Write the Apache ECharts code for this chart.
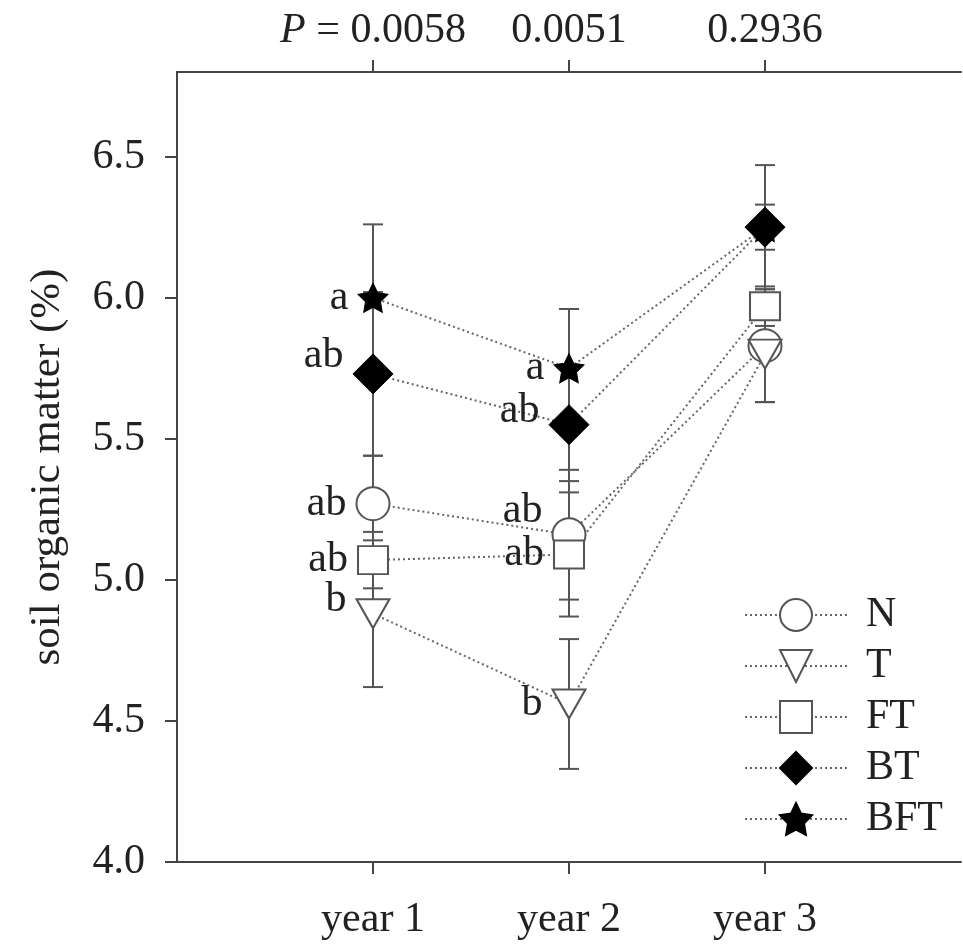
<!DOCTYPE html>
<html lang="en">
<head>
    <meta charset="UTF-8">
    <script src="https://cdn.jsdelivr.net/npm/echarts@6/dist/echarts.min.js"></script>
    <style type="text/css">
        html, body, #main {
            height: 100%;
            width: 100%;
            margin: 0;
            padding: 0;
            background: #fff;
        }
    </style>
    <title>soil organic matter</title>
</head>
<body>
<div id="main"></div>
<script>
    // x categories and P values on the top axis
    var years = ['year 1', 'year 2', 'year 3'];
    var pValues = ['0.0058', '0.0051', '0.2936'];
    var yTicks = [4.0, 4.5, 5.0, 5.5, 6.0, 6.5];

    var treatments = ['N', 'T', 'FT', 'BT', 'BFT'];

    // means and error (+/-) per year
    var meanN = [5.27, 5.16, 5.83];
    var errN = [0.17, 0.23, 0.20];
    var meanT = [4.88, 4.56, 5.80];
    var errT = [0.26, 0.23, 0.17];
    var meanFT = [5.07, 5.09, 5.97];
    var errFT = [0.10, 0.22, 0.07];
    var meanBT = [5.73, 5.55, 6.25];
    var errBT = [0.29, 0.20, 0.22];
    var meanBFT = [6.00, 5.75, 6.25];
    var errBFT = [0.26, 0.21, 0.08];

    // significance letters
    var lettersN = ['ab', 'ab', ''];
    var lettersT = ['b', 'b', ''];
    var lettersFT = ['ab', 'ab', ''];
    var lettersBT = ['ab', 'ab', ''];
    var lettersBFT = ['a', 'a', ''];

    var means = [meanN, meanT, meanFT, meanBT, meanBFT];
    var errs = [errN, errT, errFT, errBT, errBFT];
    var letters = [lettersN, lettersT, lettersFT, lettersBT, lettersBFT];

    var FONT = '"Liberation Serif", "DejaVu Serif", serif';
    var FS = 42;
    var STAR = 'path://M0,-10L2.94,-4.05L9.51,-3.09L4.76,1.55L5.88,8.09L0,5L-5.88,8.09L-4.76,1.55L-9.51,-3.09L-2.94,-4.05Z';

    var hollow = {color: '#fff', borderColor: '#555', borderWidth: 2};
    var filled = {color: '#000', borderColor: '#000', borderWidth: 1};
    var looks = [
        {symbol: 'circle', size: 33, rotate: 0, style: hollow, z: 3},
        {symbol: 'triangle', size: [33, 29], rotate: 180, style: hollow, z: 3},
        {symbol: 'rect', size: [30, 28], rotate: 0, style: hollow, z: 3},
        {symbol: 'diamond', size: 40, rotate: 0, style: filled, z: 5},
        {symbol: STAR, size: [30, 29], rotate: 0, style: filled, z: 4}
    ];
    // small vertical shifts of the letters, as placed in the figure
    var labelNudge = {'1-0': -14, '3-0': -18, '3-1': -14, '0-1': -24};

    var myChart = echarts.init(document.getElementById('main'));

    var series = [];
    var barRows = [];
    treatments.forEach(function (name, s) {
        var data = means[s].map(function (m, i) {
            var item = {value: [i + 1, m]};
            var dy = labelNudge[s + '-' + i];
            if (dy) {
                item.label = {offset: [0, dy]};
            }
            barRows.push([i + 1, m - errs[s][i], m + errs[s][i]]);
            return item;
        });
        series.push({
            name: name,
            type: 'line',
            data: data,
            z: looks[s].z,
            symbol: looks[s].symbol,
            symbolSize: looks[s].size,
            symbolRotate: looks[s].rotate,
            itemStyle: looks[s].style,
            lineStyle: {color: '#666', width: 2, type: [2, 3]},
            label: {
                show: true,
                position: 'left',
                distance: 9,
                fontFamily: FONT,
                fontSize: FS,
                color: '#222',
                formatter: function (p) {
                    return letters[s][p.dataIndex];
                }
            },
            emphasis: {disabled: true}
        });
    });

    series.unshift({
        name: 'error',
        type: 'custom',
        z: 1,
        data: barRows,
        encode: {x: 0, y: [1, 2]},
        renderItem: function (params, api) {
            var x = api.value(0);
            var lo = api.coord([x, api.value(1)]);
            var hi = api.coord([x, api.value(2)]);
            var w = 10;
            var st = {stroke: '#555', lineWidth: 2};
            return {
                type: 'group',
                children: [
                    {type: 'line', shape: {x1: lo[0], y1: lo[1], x2: hi[0], y2: hi[1]}, style: st},
                    {type: 'line', shape: {x1: lo[0] - w, y1: lo[1], x2: lo[0] + w, y2: lo[1]}, style: st},
                    {type: 'line', shape: {x1: hi[0] - w, y1: hi[1], x2: hi[0] + w, y2: hi[1]}, style: st}
                ]
            };
        }
    });

    var axisLine = {show: true, lineStyle: {color: '#444', width: 2}};
    var xTickVals = [1, 2, 3];

    option = {
        animation: false,
        backgroundColor: '#fff',
        grid: {left: 177, right: 2, top: 72, bottom: 83},
        legend: {
            data: treatments,
            orient: 'vertical',
            left: 739,
            top: 589,
            itemWidth: 102,
            itemHeight: 40,
            itemGap: 9,
            selectedMode: false,
            textStyle: {fontFamily: FONT, fontSize: FS, color: '#222', padding: [0, 0, 0, 14]}
        },
        xAxis: [{
            type: 'value',
            position: 'bottom',
            min: 0,
            max: 4,
            interval: 1,
            axisLine: axisLine,
            axisTick: {show: true, length: 12, customValues: xTickVals, lineStyle: {color: '#444', width: 2}},
            axisLabel: {
                customValues: xTickVals,
                margin: 37,
                fontFamily: FONT,
                fontSize: FS,
                color: '#222',
                formatter: function (v) {
                    return years[v - 1];
                }
            },
            splitLine: {show: false}
        }, {
            type: 'value',
            position: 'top',
            min: 0,
            max: 4,
            interval: 1,
            axisLine: axisLine,
            axisTick: {show: true, length: 12, customValues: xTickVals, lineStyle: {color: '#444', width: 2}},
            axisLabel: {
                customValues: xTickVals,
                margin: 20,
                fontFamily: FONT,
                fontSize: FS,
                color: '#222',
                formatter: function (v) {
                    return v === 1 ? '{i|P} = ' + pValues[0] : pValues[v - 1];
                },
                rich: {
                    i: {fontFamily: FONT, fontSize: FS, fontStyle: 'italic', color: '#222'}
                }
            },
            splitLine: {show: false}
        }],
        yAxis: [{
            type: 'value',
            min: 4,
            max: 6.8,
            interval: 0.5,
            name: 'soil organic matter (%)',
            nameLocation: 'middle',
            nameGap: 108,
            nameTextStyle: {fontFamily: FONT, fontSize: 43, color: '#222'},
            axisLine: axisLine,
            axisTick: {show: true, length: 12, customValues: yTicks, lineStyle: {color: '#444', width: 2}},
            axisLabel: {
                customValues: yTicks,
                margin: 32,
                fontFamily: FONT,
                fontSize: FS,
                color: '#222',
                formatter: function (v) {
                    return v.toFixed(1);
                }
            },
            splitLine: {show: false}
        }, {
            type: 'value',
            position: 'right',
            min: 4,
            max: 6.8,
            axisLine: axisLine,
            axisTick: {show: false},
            axisLabel: {show: false},
            splitLine: {show: false}
        }],
        series: series
    };

    myChart.setOption(option);
</script>
</body>
</html>
